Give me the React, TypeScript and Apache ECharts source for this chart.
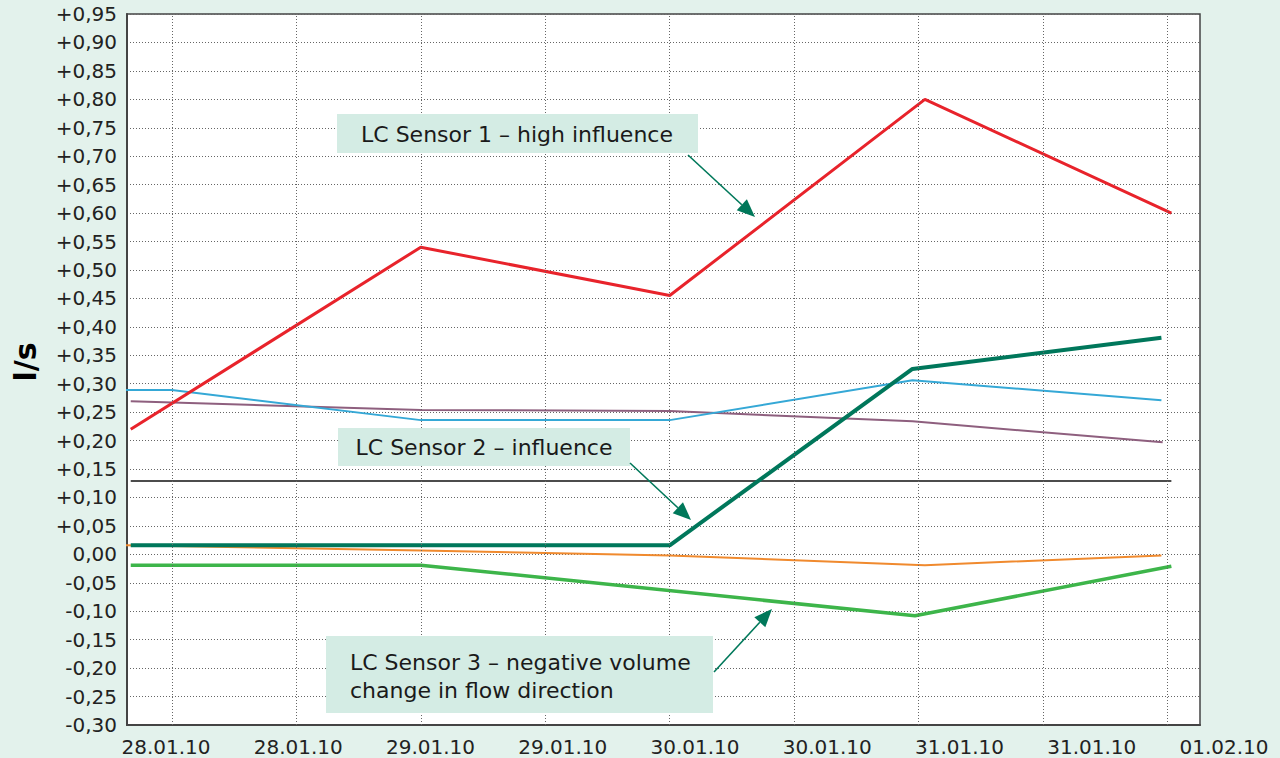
import React, { useEffect, useRef } from "react";
import * as echarts from "echarts";

// x positions are expressed in gridline units (0..8 = the nine vertical gridlines)
const xLabels = ["28.01.10", "28.01.10", "29.01.10", "29.01.10", "30.01.10", "30.01.10", "31.01.10", "31.01.10", "01.02.10"];
const gridX = [0, 1, 2, 3, 4, 5, 6, 7, 8];

const sensor1X = [-0.33, 2, 4, 6.05, 8.03];
const sensor1Y = [0.22, 0.54, 0.455, 0.8, 0.6];

const sensor2X = [-0.33, 4, 5.95, 7.95];
const sensor2Y = [0.016, 0.016, 0.326, 0.381];

const sensor3X = [-0.33, 2, 5.97, 8.03];
const sensor3Y = [-0.019, -0.019, -0.108, -0.021];

const blueX = [-0.42, 0, 2, 4, 5.95, 7.95];
const blueY = [0.289, 0.289, 0.236, 0.236, 0.306, 0.271];

const purpleX = [-0.33, 2, 4, 5.95, 7.96];
const purpleY = [0.269, 0.254, 0.252, 0.234, 0.197];

const orangeX = [-0.42, 2, 4, 6.05, 7.95];
const orangeY = [0.016, 0.007, -0.002, -0.019, -0.002];

const blackX = [-0.33, 8.03];
const blackY = [0.129, 0.129];

const yMin = -0.3;
const yMax = 0.95;
const yStep = 0.05;

const FONT = "'DejaVu Sans', 'Noto Sans', sans-serif";
const BG = "#e3f2ec";
const BOX = "#d4ece4";
const ARROW = "#00785a";
const GRIDC = "#666";

const zip = (xs: number[], ys: number[]) => xs.map((x, i) => [x, ys[i]]);

function arrow(x1: number, y1: number, x2: number, y2: number) {
  const dx = x2 - x1;
  const dy = y2 - y1;
  const L = Math.hypot(dx, dy);
  const ux = dx / L;
  const uy = dy / L;
  const hl = 18;
  const hw = 7.5;
  const bx = x2 - ux * hl;
  const by = y2 - uy * hl;
  const px = -uy;
  const py = ux;
  return [
    { type: "line", z: 100, shape: { x1, y1, x2: bx, y2: by }, style: { stroke: ARROW, lineWidth: 1.6 } },
    {
      type: "polygon",
      z: 100,
      shape: { points: [[x2, y2], [bx + px * hw, by + py * hw], [bx - px * hw, by - py * hw]] },
      style: { fill: ARROW },
    },
  ];
}

function fmtY(v: number) {
  if (Math.abs(v) < 1e-9) return "0,00";
  const s = Math.abs(v).toFixed(2).replace(".", ",");
  return (v > 0 ? "+" : "-") + s;
}

export default function App() {
  const ref = useRef<HTMLDivElement>(null);
  useEffect(() => {
    if (!ref.current) return;
    const chart = echarts.init(ref.current, null, { renderer: "svg" });
    const lineSeries = (name: string, data: number[][], color: string, width: number, clip = true) => ({
      type: "line",
      name,
      xAxisIndex: 0,
      yAxisIndex: 0,
      data,
      symbol: "none",
      clip,
      lineStyle: { color, width },
      itemStyle: { color },
      z: 3,
    });
    chart.setOption({
      animation: false,
      backgroundColor: BG,
      grid: [
        {
          left: 127,
          right: 80,
          top: 14,
          bottom: 33,
          show: true,
          backgroundColor: "#ffffff",
          borderColor: "#444",
          borderWidth: 1.5,
        },
        { left: 166, right: 56, top: 14, bottom: 33, show: false },
      ],
      xAxis: [
        {
          type: "value",
          gridIndex: 0,
          min: -0.36,
          max: 8.26,
          axisLabel: { show: false },
          axisTick: { show: false },
          splitLine: { show: false },
          axisLine: { show: true, onZero: false, lineStyle: { color: "#444", width: 2 } },
        },
        {
          type: "category",
          gridIndex: 1,
          boundaryGap: false,
          data: xLabels,
          axisLine: { show: false },
          axisTick: { show: false },
          splitLine: { show: false },
          axisLabel: { interval: 0, margin: 12, fontSize: 20, fontFamily: FONT, color: "#222" },
        },
      ],
      yAxis: [
        {
          type: "value",
          gridIndex: 0,
          min: yMin,
          max: yMax,
          interval: yStep,
          axisLine: { show: true, onZero: false, lineStyle: { color: "#444", width: 2 } },
          axisTick: { show: false },
          axisLabel: { margin: 10, fontSize: 20, fontFamily: FONT, color: "#222", formatter: fmtY },
          splitLine: { show: true, lineStyle: { color: GRIDC, width: 1, type: [1, 2] } },
        },
        { type: "value", gridIndex: 1, show: false, min: 0, max: 1 },
      ],
      series: [
        {
          type: "line",
          name: "grid",
          xAxisIndex: 0,
          yAxisIndex: 0,
          data: [],
          symbol: "none",
          z: 1,
          markLine: {
            silent: true,
            symbol: ["none", "none"],
            label: { show: false },
            lineStyle: { color: GRIDC, width: 1, type: [1, 2] },
            data: gridX.map((v) => ({ xAxis: v })),
          },
        },
        lineSeries("black", zip(blackX, blackY), "#111", 1.5),
        lineSeries("purple", zip(purpleX, purpleY), "#8e5f7e", 2),
        lineSeries("blue", zip(blueX, blueY), "#35a8d6", 2, false),
        lineSeries("orange", zip(orangeX, orangeY), "#f08a2e", 2, false),
        lineSeries("LC Sensor 3", zip(sensor3X, sensor3Y), "#3db54a", 3.5),
        lineSeries("LC Sensor 2", zip(sensor2X, sensor2Y), "#00775b", 4),
        lineSeries("LC Sensor 1", zip(sensor1X, sensor1Y), "#e8232b", 3),
      ],
      graphic: [
        {
          type: "text",
          x: 25,
          y: 362,
          rotation: Math.PI / 2,
          z: 100,
          style: {
            text: "l/s",
            fontSize: 30,
            fontWeight: "bold",
            fontFamily: FONT,
            fill: "#000",
            align: "center",
            verticalAlign: "middle",
          },
        },
        { type: "rect", z: 99, shape: { x: 337, y: 114, width: 361, height: 39 }, style: { fill: BOX } },
        {
          type: "text",
          z: 100,
          x: 517,
          y: 134,
          style: { text: "LC Sensor 1 – high influence", fontSize: 22, fontFamily: FONT, fill: "#1a1a1a", align: "center", verticalAlign: "middle" },
        },
        ...arrow(688, 155, 755, 217),
        { type: "rect", z: 99, shape: { x: 338, y: 428, width: 292, height: 38 }, style: { fill: BOX } },
        {
          type: "text",
          z: 100,
          x: 484,
          y: 447,
          style: { text: "LC Sensor 2 – influence", fontSize: 22, fontFamily: FONT, fill: "#1a1a1a", align: "center", verticalAlign: "middle" },
        },
        ...arrow(630, 463, 691, 520),
        { type: "rect", z: 99, shape: { x: 326, y: 636, width: 387, height: 77 }, style: { fill: BOX } },
        {
          type: "text",
          z: 100,
          x: 350,
          y: 676,
          style: {
            text: "LC Sensor 3 – negative volume\nchange in flow direction",
            fontSize: 22,
            lineHeight: 28,
            fontFamily: FONT,
            fill: "#1a1a1a",
            align: "left",
            verticalAlign: "middle",
          },
        },
        ...arrow(714, 672, 772, 609),
      ],
    });
    return () => chart.dispose();
  }, []);
  return (
    <div
      ref={ref}
      style={{ position: "fixed", left: 0, top: 0, width: 1280, height: 758, background: BG }}
    />
  );
}
